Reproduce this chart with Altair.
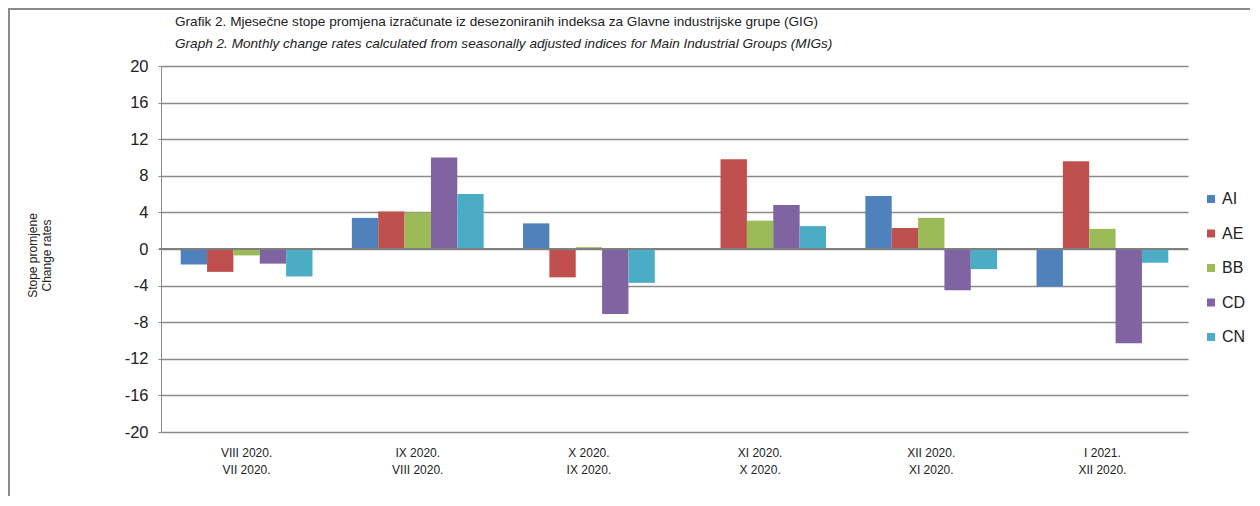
import altair as alt
import pandas as pd

periods = ["VIII 2020.|VII 2020.", "IX 2020.|VIII 2020.", "X 2020.|IX 2020.",
           "XI 2020.|X 2020.", "XII 2020.|XI 2020.", "I 2021.|XII 2020."]
series = ["AI", "AE", "BB", "CD", "CN"]
colors = ["#4F81BD", "#C0504D", "#9BBB59", "#8064A2", "#4BACC6"]

AI = [-1.7, 3.4, 2.8, 0.0, 5.8, -4.1]
AE = [-2.5, 4.1, -3.1, 9.8, 2.3, 9.6]
BB = [-0.7, 4.0, 0.2, 3.1, 3.4, 2.2]
CD = [-1.6, 10.0, -7.1, 4.8, -4.5, -10.3]
CN = [-3.0, 6.0, -3.7, 2.5, -2.2, -1.5]

y_ticks = list(range(-20, 21, 4))

title_line1 = "Grafik 2. Mjesečne stope promjena izračunate iz desezoniranih indeksa za Glavne industrijske grupe (GIG)"
title_line2 = "Graph 2. Monthly change rates calculated from seasonally adjusted indices for Main Industrial Groups (MIGs)"

rows = []
for name, vals in zip(series, [AI, AE, BB, CD, CN]):
    for p, v in zip(periods, vals):
        rows.append({"period": p, "series": name, "value": v})
df = pd.DataFrame(rows)

NARROW = "Liberation Sans Narrow, Liberation Sans, Arial"
GRAY = "#8a8a8a"
TXT = "#222222"

W, H = 1027, 366
PL, PT, PR, PB = 153, 58, 62, 64

bars = alt.Chart(df).mark_bar().encode(
    x=alt.X("period:N", sort=periods,
            scale=alt.Scale(paddingInner=0.23, paddingOuter=0.115),
            axis=alt.Axis(title=None, labelExpr="split(datum.label, '|')",
                          labelAngle=0, domain=False, ticks=False,
                          labelPadding=15, labelFont=NARROW, labelFontSize=12,
                          labelLineHeight=17, labelColor=TXT)),
    xOffset=alt.XOffset("series:N", sort=series,
                        scale=alt.Scale(paddingInner=0, paddingOuter=0)),
    y=alt.Y("value:Q", scale=alt.Scale(domain=[-20, 20], nice=False, zero=False),
            axis=alt.Axis(values=y_ticks, tickCount=20, grid=True, gridColor=GRAY,
                          gridWidth=1.3, domainColor=GRAY, tickColor=GRAY, tickSize=3,
                          labelOverlap=False, labelExpr="'' + datum.value",
                          labelPadding=10, labelFont="Liberation Sans",
                          labelFontSize=16.5, labelColor=TXT,
                          title=["Stope promjene", "Change rates"],
                          titleFont=NARROW, titleFontSize=12, titleFontWeight="normal",
                          titleColor=TXT, titleAngle=270, titleX=-134, titleY=189,
                          titleAlign="center", titleBaseline="top")),
    color=alt.Color("series:N", sort=series,
                    scale=alt.Scale(domain=series, range=colors),
                    legend=alt.Legend(title=None, orient="none", legendX=1042, legendY=125,
                                      symbolType="square", symbolSize=64,
                                      symbolStrokeWidth=0, labelFont="Liberation Sans",
                                      labelFontSize=16, labelColor=TXT,
                                      rowPadding=18.5, labelOffset=3, padding=0)),
)

one = pd.DataFrame({"v": [0]})

zero = alt.Chart(one).mark_rule(color="#7f7f7f", strokeWidth=2).encode(
    y="v:Q", x=alt.value(-2), x2=alt.value(W))

frame_left = alt.Chart(one).mark_rule(color=GRAY, strokeWidth=2).encode(
    x=alt.value(-PL + 1), y=alt.value(-PT), y2=alt.value(H + PB))
frame_top = alt.Chart(one).mark_rule(color=GRAY, strokeWidth=2).encode(
    y=alt.value(-PT + 1), x=alt.value(-PL), x2=alt.value(W + PR))

t1 = alt.Chart(one).mark_text(align="left", baseline="middle", font=NARROW,
                              fontSize=13.6, color=TXT).encode(
    x=alt.value(14), y=alt.value(-44), text=alt.value(title_line1))
t2 = alt.Chart(one).mark_text(align="left", baseline="middle", font=NARROW,
                              fontSize=13.6, fontStyle="italic", color=TXT).encode(
    x=alt.value(14), y=alt.value(-22), text=alt.value(title_line2))

chart = alt.layer(bars, zero, frame_left, frame_top, t1, t2).properties(
    width=W, height=H,
    autosize=alt.AutoSizeParams(type="none"),
    padding={"left": PL, "top": PT, "right": PR, "bottom": PB},
).configure_view(stroke=None)

chart.save("out.html", embed_options={"renderer": "svg", "actions": False})
